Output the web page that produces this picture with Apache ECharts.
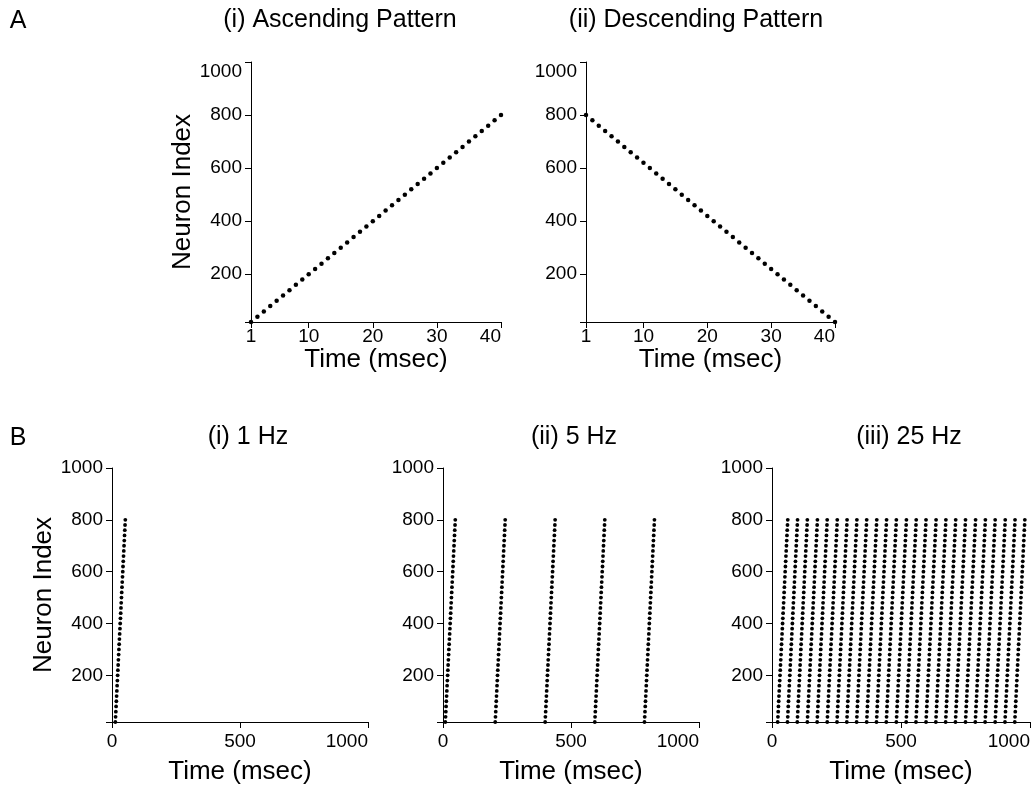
<!DOCTYPE html>
<html>
<head>
<meta charset="utf-8">
<script src="https://cdn.jsdelivr.net/npm/echarts@6/dist/echarts.min.js"></script>
<style>
  html, body { margin: 0; padding: 0; background: #fff; }
  #chart { width: 1035px; height: 791px; }
</style>
</head>
<body>
<div id="chart"></div>
<script>
// ---- Data ----
const timeSteps = [1, 2, 3, 4, 5, 6, 7, 8, 9, 10, 11, 12, 13, 14, 15, 16, 17, 18, 19, 20,
                   21, 22, 23, 24, 25, 26, 27, 28, 29, 30, 31, 32, 33, 34, 35, 36, 37, 38, 39, 40];
const neuronIndex = [20, 40, 60, 80, 100, 120, 140, 160, 180, 200, 220, 240, 260, 280, 300, 320, 340, 360, 380, 400,
                     420, 440, 460, 480, 500, 520, 540, 560, 580, 600, 620, 640, 660, 680, 700, 720, 740, 760, 780, 800];
// start time (msec) of each pattern presentation in panel B
const sweepStarts1Hz = [12];
const sweepStarts5Hz = [8, 203, 398, 592, 786];
const sweepStarts25Hz = [21, 59, 97, 136, 174, 213, 251, 289, 327, 366, 404, 442, 481,
                         519, 557, 596, 634, 672, 710, 749, 787, 825, 864, 902, 940];
const yTickValues = [20, 200, 400, 600, 800, 1000];
const yLabelValues = [200, 400, 600, 800, 1000];
const xTickValuesA = [1, 10, 20, 30, 40];

const panelTitles = ['(i) Ascending Pattern', '(ii) Descending Pattern', '(i) 1 Hz', '(ii) 5 Hz', '(iii) 25 Hz'];

// ---- Build series data ----
const ascData = timeSteps.map((t, i) => [t, neuronIndex[i]]);
const descData = timeSteps.map((t, i) => [t, neuronIndex[neuronIndex.length - 1 - i]]);
function raster(starts) {
  const out = [];
  starts.forEach(s => timeSteps.forEach((t, i) => out.push([s + t, neuronIndex[i]])));
  return out;
}

const FONT = 'Liberation Sans, Arial, Helvetica, sans-serif';
const axisLineStyle = { show: true, onZero: false, lineStyle: { color: '#000', width: 1 } };
const tickStyle = { show: true, length: 6, inside: false, lineStyle: { color: '#000', width: 1 } };
const labelStyle = { color: '#000', fontSize: 19, fontFamily: FONT, formatter: v => String(v) };
const nameStyle = { color: '#000', fontSize: 26, fontFamily: FONT };

const grids = [
  { left: 251, top: 62, width: 250, height: 260 },
  { left: 586, top: 62, width: 249, height: 260 },
  { left: 112, top: 468, width: 256, height: 254 },
  { left: 443, top: 468, width: 256, height: 254 },
  { left: 772, top: 468, width: 258, height: 254 }
].map(g => Object.assign({ containLabel: false, outerBoundsMode: 'none' }, g));

function yAxisFor(idx, withName, topAlignMax) {
  const lbl = Object.assign({ customValues: yLabelValues, margin: 9 }, labelStyle);
  if (topAlignMax) lbl.verticalAlignMaxLabel = 'top';
  return {
    type: 'value', gridIndex: idx, min: 20, max: 1000,
    axisLine: axisLineStyle,
    axisTick: Object.assign({ customValues: yTickValues }, tickStyle),
    axisLabel: lbl,
    splitLine: { show: false },
    name: withName ? 'Neuron Index' : '',
    nameLocation: 'middle',
    nameGap: 55,
    nameTextStyle: nameStyle
  };
}
function xAxisA(idx) {
  return {
    type: 'value', gridIndex: idx, min: 1, max: 40,
    axisLine: axisLineStyle,
    axisTick: Object.assign({ customValues: xTickValuesA }, tickStyle),
    axisLabel: Object.assign({ customValues: xTickValuesA, margin: 5, alignMaxLabel: 'right' }, labelStyle),
    splitLine: { show: false },
    name: 'Time (msec)', nameLocation: 'middle', nameGap: 20,
    nameTextStyle: nameStyle
  };
}
function xAxisB(idx) {
  return {
    type: 'value', gridIndex: idx, min: 0, max: 1000, interval: 500,
    axisLine: axisLineStyle,
    axisTick: tickStyle,
    axisLabel: Object.assign({ margin: 10, alignMaxLabel: 'right' }, labelStyle),
    splitLine: { show: false },
    name: 'Time (msec)', nameLocation: 'middle', nameGap: 37,
    nameTextStyle: nameStyle
  };
}

function scatter(idx, data, size) {
  return {
    type: 'scatter', xAxisIndex: idx, yAxisIndex: idx, data: data,
    symbol: 'circle', symbolSize: size, itemStyle: { color: '#000', opacity: 1 }, silent: true
  };
}

function txt(text, x, y, size) {
  return {
    type: 'text', x: x, y: y, silent: true,
    style: { text: text, fill: '#000', font: size + 'px ' + FONT, textAlign: 'center', textVerticalAlign: 'middle' }
  };
}

const option = {
  animation: false,
  backgroundColor: '#fff',
  grid: grids,
  xAxis: [xAxisA(0), xAxisA(1), xAxisB(2), xAxisB(3), xAxisB(4)],
  yAxis: [yAxisFor(0, true, true), yAxisFor(1, false, true), yAxisFor(2, true, false), yAxisFor(3, false, false), yAxisFor(4, false, false)],
  series: [
    scatter(0, ascData, 4.5),
    scatter(1, descData, 4.5),
    scatter(2, raster(sweepStarts1Hz), 3.8),
    scatter(3, raster(sweepStarts5Hz), 3.8),
    scatter(4, raster(sweepStarts25Hz), 3.8)
  ],
  graphic: [
    txt('A', 18, 21, 25),
    txt('B', 18, 438, 25),
    txt(panelTitles[0], 340, 20, 25),
    txt(panelTitles[1], 696, 20, 25),
    txt(panelTitles[2], 248, 437, 25),
    txt(panelTitles[3], 574, 437, 25),
    txt(panelTitles[4], 909, 437, 25)
  ]
};

const chart = echarts.init(document.getElementById('chart'), null, { renderer: 'canvas' });
chart.setOption(option);
</script>
</body>
</html>
